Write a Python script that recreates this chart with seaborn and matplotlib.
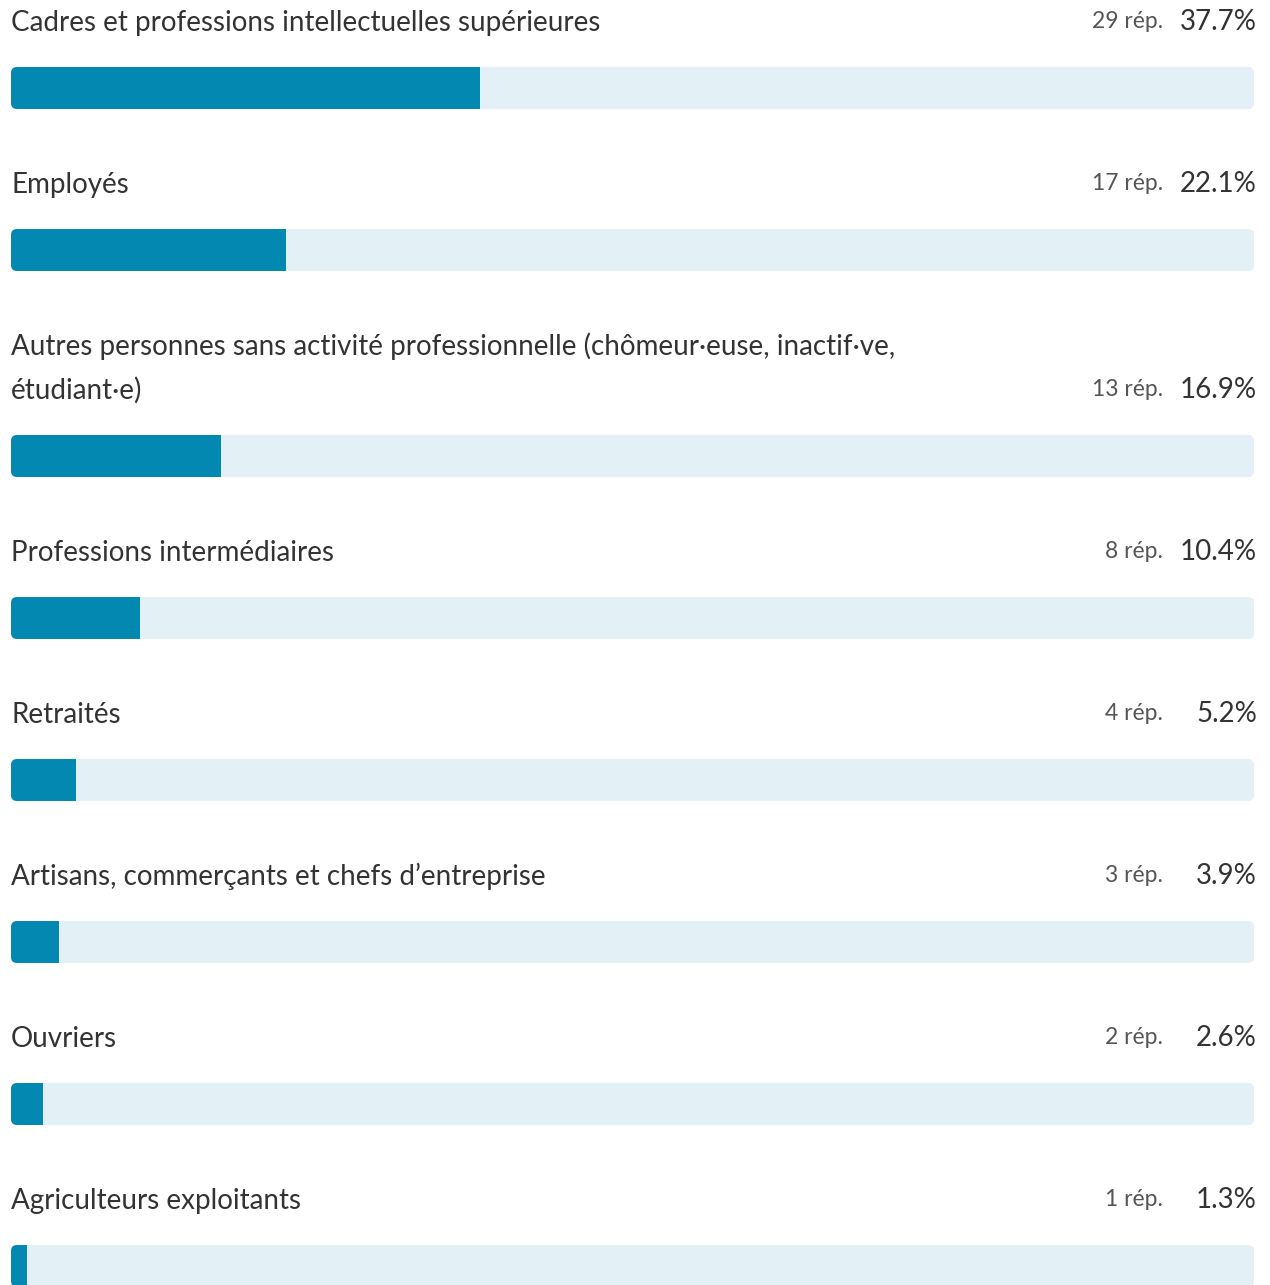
import matplotlib
matplotlib.use("Agg")
import matplotlib.pyplot as plt
from matplotlib.patches import FancyBboxPatch
from matplotlib.transforms import blended_transform_factory
import seaborn as sns
import pandas as pd

# ---- data ----
categories = [
    "Cadres et professions intellectuelles supérieures",
    "Employés",
    "Autres personnes sans activité professionnelle (chômeur·euse, inactif·ve,\nétudiant·e)",
    "Professions intermédiaires",
    "Retraités",
    "Artisans, commerçants et chefs d’entreprise",
    "Ouvriers",
    "Agriculteurs exploitants",
]
responses = [29, 17, 13, 8, 4, 3, 2, 1]
percent = [37.7, 22.1, 16.9, 10.4, 5.2, 3.9, 2.6, 1.3]
track_total = [100.0] * len(categories)

# ---- layout / style ----
W, H, DPI = 1270, 1285, 100
LEFT_PX, TRACK_PX = 11, 1243
FIRST_BAR, PITCH, LINE, BAR_H = 88, 162, 44, 42
BASE_OFF = 57
FILL_COLOR = "#0389B1"
TRACK_COLOR = "#E3F1F6"
TEXT_COLOR = "#333333"
SUB_COLOR = "#555555"

sns.set_theme(style="white")
plt.rcParams['font.family'] = ['Lato', 'DejaVu Sans']

centers = []
y = FIRST_BAR
for i, c in enumerate(categories):
    if i > 0:
        y += PITCH + LINE * c.count("\n")
    centers.append(y)

df = pd.DataFrame({"pos": centers, "pct": percent, "total": track_total})

fig = plt.figure(figsize=(W / DPI, H / DPI), dpi=DPI)
fig.patch.set_facecolor("white")
ax = fig.add_axes([LEFT_PX / W, 0, TRACK_PX / W, 1])

sns.barplot(data=df, x="total", y="pos", orient="h", native_scale=True,
            color=TRACK_COLOR, saturation=1, ax=ax, errorbar=None)
n = len(categories)
sns.barplot(data=df, x="pct", y="pos", orient="h", native_scale=True,
            color=FILL_COLOR, saturation=1, ax=ax, errorbar=None)

ax.set_xlim(0, 100)
ax.set_ylim(H, 0)
ax.axis("off")

patches = list(ax.patches)
tracks, fills = patches[:n], patches[n:]
x_px_per_unit = TRACK_PX / 100.0
aspect = x_px_per_unit  # data-y (px) per data-x unit
radius = 6 / x_px_per_unit

rounded = []
for p, c in zip(tracks, centers):
    x0, w = p.get_x(), p.get_width()
    p.remove()
    fb = FancyBboxPatch((x0, c - BAR_H / 2), w, BAR_H,
                        boxstyle=f"round,pad=0,rounding_size={radius}",
                        mutation_aspect=aspect, facecolor=TRACK_COLOR,
                        edgecolor="none", zorder=1)
    ax.add_patch(fb)
    rounded.append(fb)

for p, c, fb in zip(fills, centers, rounded):
    p.set_y(c - BAR_H / 2)
    p.set_height(BAR_H)
    p.set_edgecolor("none")
    p.set_zorder(2)
    p.set_clip_path(fb)

trans = blended_transform_factory(fig.transFigure, ax.transData)
for c, lab, r, pc in zip(centers, categories, responses, percent):
    lines = lab.split("\n")
    base = c - BASE_OFF
    for j, ln in enumerate(lines):
        yy = base - (len(lines) - 1 - j) * LINE
        ax.text(LEFT_PX / W, yy, ln, transform=trans, ha="left", va="baseline",
                fontsize=20, color=TEXT_COLOR)
    ax.text(1163 / W, base - 3, f"{r} rép.", transform=trans, ha="right",
            va="baseline", fontsize=16.5, color=SUB_COLOR)
    ax.text(1257 / W, base - 1, f"{pc:.1f}%", transform=trans, ha="right",
            va="baseline", fontsize=20, color=TEXT_COLOR)

fig.savefig("out.png", dpi=DPI, facecolor="white")
